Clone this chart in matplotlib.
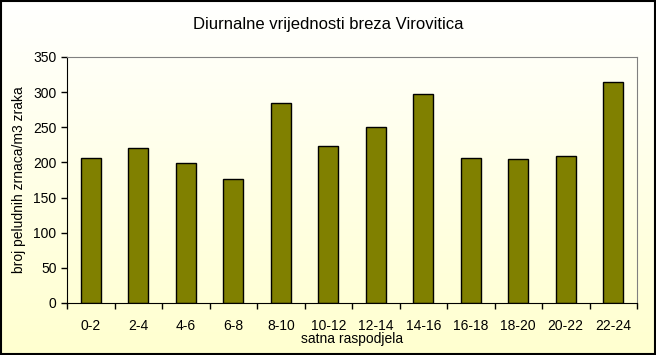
import numpy as np
import matplotlib.pyplot as plt
from matplotlib.colors import LinearSegmentedColormap
from matplotlib.patches import Rectangle

plt.rcParams['font.family'] = ['Liberation Sans', 'DejaVu Sans']

categories = ['0-2', '2-4', '4-6', '6-8', '8-10', '10-12', '12-14', '14-16',
              '16-18', '18-20', '20-22', '22-24']
values = [206, 220, 199, 176, 284, 223, 250, 297, 207, 205, 209, 314]

fig = plt.figure(figsize=(6.56, 3.55), dpi=100)

# background gradient (white at top, pale yellow at bottom)
bg = fig.add_axes([0, 0, 1, 1], zorder=0)
cmap = LinearSegmentedColormap.from_list('bg', ['#FFFFCF', '#FFFFFF'])
grad = np.linspace(0, 1, 256).reshape(-1, 1)
bg.imshow(grad, aspect='auto', cmap=cmap, origin='lower', extent=[0, 1, 0, 1])
bg.add_patch(Rectangle((0.0008, 0.0015), 0.998, 0.997, fill=False,
                       edgecolor='black', linewidth=1.5, transform=bg.transAxes))
bg.set_axis_off()

ax = fig.add_axes([67 / 656, 52 / 355, 570 / 656, 246 / 355], zorder=1)
ax.patch.set_alpha(0)

x = np.arange(len(categories))
ax.bar(x, values, width=0.42, color='#808000', edgecolor='black', linewidth=1)

ax.set_xlim(-0.5, len(categories) - 0.5)
ax.set_ylim(0, 350)
ax.set_yticks(range(0, 351, 50))
ax.set_xticks(x)
ax.set_xticklabels(categories)
ax.set_xticks(np.arange(-0.5, len(categories), 1), minor=True)
ax.tick_params(axis='x', which='major', length=0, labelsize=10, pad=11.5)
ax.tick_params(axis='x', which='minor', length=4, direction='out', width=1)
ax.tick_params(axis='y', length=4, direction='out', labelsize=10, width=1)

for s in ['top', 'right']:
    ax.spines[s].set_color('#808080')
for s in ['left', 'bottom']:
    ax.spines[s].set_color('black')

ax.set_xlabel('satna raspodjela', fontsize=10, labelpad=-1)
ax.set_ylabel('broj peludnih zrnaca/m3 zraka', fontsize=10, labelpad=5)
fig.text(0.5, 1 - 25 / 355, 'Diurnalne vrijednosti breza Virovitica',
         ha='center', va='center', fontsize=12)

fig.savefig('out.png', dpi=100)
